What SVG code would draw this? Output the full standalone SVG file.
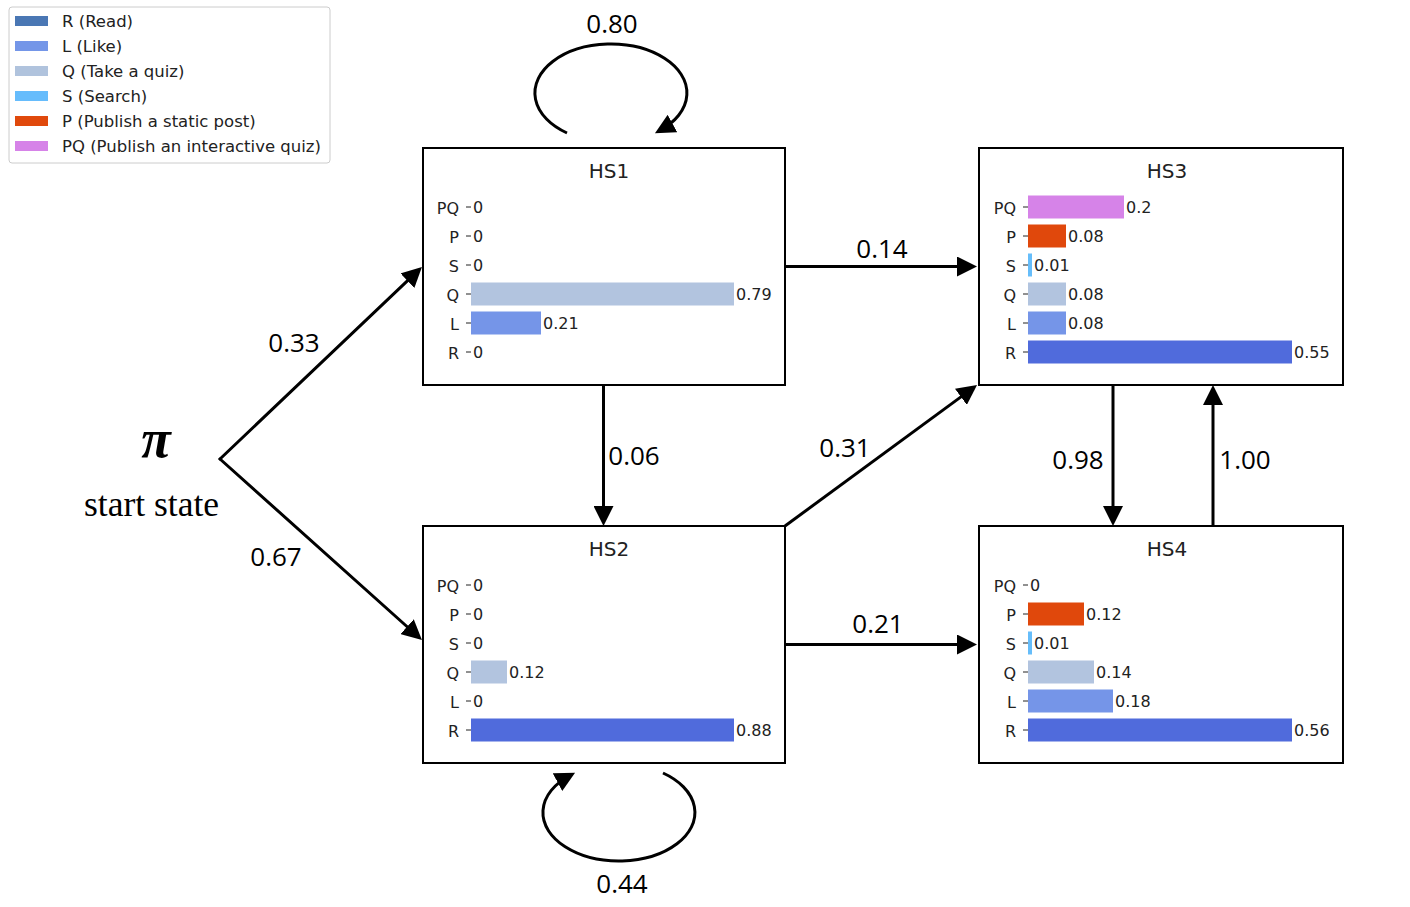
<svg xmlns="http://www.w3.org/2000/svg" width="1410" height="907" viewBox="0 0 1410 907">
<style>
.box{fill:#fff;stroke:#000;stroke-width:2}
.ttl{font-family:"DejaVu Sans",sans-serif;font-size:20px;fill:#222;text-anchor:middle}
.rl{font-family:"DejaVu Sans",sans-serif;font-size:16px;fill:#222;text-anchor:end}
.vl{font-family:"DejaVu Sans",sans-serif;font-size:16px;fill:#222}
.lg{font-family:"DejaVu Sans",sans-serif;font-size:16.5px;fill:#222}
.tk{stroke:#222;stroke-width:1}
.el{font-family:"Open Sans","Noto Sans",sans-serif;font-size:26px;fill:#000;text-anchor:middle}
.cn{fill:none;stroke:#000;stroke-width:3;marker-end:url(#ah)}
.cR{fill:#506BDC}.cL{fill:#7595E8}.cQ{fill:#B2C4DF}.cS{fill:#66BDFA}.cP{fill:#E0480C}.cPQ{fill:#D683E8}
</style>
<defs>
<marker id="ah" markerUnits="userSpaceOnUse" markerWidth="22" markerHeight="20" refX="14" refY="10" orient="auto">
<path d="M0,0 L20,10 L0,20 z" fill="#000"/>
</marker>
</defs>
<rect width="1410" height="907" fill="#fff"/>

<g id="legend">
<rect x="9" y="7" width="321" height="156" rx="3" fill="#fff" stroke="#ccc" stroke-width="1"/>
<rect x="15" y="16" width="33" height="10" fill="#4A77B4"/><text class="lg" x="62" y="27">R (Read)</text>
<rect x="15" y="41" width="33" height="10" fill="#7496E8"/><text class="lg" x="62" y="52">L (Like)</text>
<rect x="15" y="66" width="33" height="10" fill="#B0C3DD"/><text class="lg" x="62" y="77">Q (Take a quiz)</text>
<rect x="15" y="91" width="33" height="10" fill="#66BCFC"/><text class="lg" x="62" y="102">S (Search)</text>
<rect x="15" y="116" width="33" height="10" fill="#E0490C"/><text class="lg" x="62" y="127">P (Publish a static post)</text>
<rect x="15" y="141" width="33" height="10" fill="#D683E8"/><text class="lg" x="62" y="152">PQ (Publish an interactive quiz)</text>
</g>

<g id="start">
<text x="156" y="457" font-family="Liberation Serif,serif" font-style="italic" font-weight="bold" font-size="54" text-anchor="middle">π</text>
<text x="84" y="516" font-family="Liberation Serif,serif" font-size="35.5">start state</text>
</g>

<g id="HS1">
<rect class="box" x="423" y="148" width="362" height="237"/>
<text class="ttl" x="609" y="178">HS1</text>
<g class="tk"><line x1="466" y1="207" x2="471" y2="207"/><line x1="466" y1="236" x2="471" y2="236"/><line x1="466" y1="265" x2="471" y2="265"/><line x1="466" y1="294" x2="471" y2="294"/><line x1="466" y1="323" x2="471" y2="323"/><line x1="466" y1="352" x2="471" y2="352"/></g>
<text class="rl" x="459" y="214">PQ</text><text class="rl" x="459" y="243">P</text><text class="rl" x="459" y="272">S</text><text class="rl" x="459" y="301">Q</text><text class="rl" x="459" y="330">L</text><text class="rl" x="459" y="359">R</text>
<rect class="cQ" x="471" y="282.5" width="263" height="23"/>
<rect class="cL" x="471" y="311.5" width="70" height="23"/>
<text class="vl" x="473" y="213">0</text><text class="vl" x="473" y="242">0</text><text class="vl" x="473" y="271">0</text>
<text class="vl" x="736" y="300">0.79</text><text class="vl" x="543" y="329">0.21</text><text class="vl" x="473" y="358">0</text>
</g>

<g id="HS2">
<rect class="box" x="423" y="526" width="362" height="237"/>
<text class="ttl" x="609" y="556">HS2</text>
<g class="tk"><line x1="466" y1="585" x2="471" y2="585"/><line x1="466" y1="614" x2="471" y2="614"/><line x1="466" y1="643" x2="471" y2="643"/><line x1="466" y1="672" x2="471" y2="672"/><line x1="466" y1="701" x2="471" y2="701"/><line x1="466" y1="730" x2="471" y2="730"/></g>
<text class="rl" x="459" y="592">PQ</text><text class="rl" x="459" y="621">P</text><text class="rl" x="459" y="650">S</text><text class="rl" x="459" y="679">Q</text><text class="rl" x="459" y="708">L</text><text class="rl" x="459" y="737">R</text>
<rect class="cQ" x="471" y="660.5" width="36" height="23"/>
<rect class="cR" x="471" y="718.5" width="263" height="23"/>
<text class="vl" x="473" y="591">0</text><text class="vl" x="473" y="620">0</text><text class="vl" x="473" y="649">0</text>
<text class="vl" x="509" y="678">0.12</text><text class="vl" x="473" y="707">0</text><text class="vl" x="736" y="736">0.88</text>
</g>

<g id="HS3">
<rect class="box" x="979" y="148" width="364" height="237"/>
<text class="ttl" x="1167" y="178">HS3</text>
<g class="tk"><line x1="1023" y1="207" x2="1028" y2="207"/><line x1="1023" y1="236" x2="1028" y2="236"/><line x1="1023" y1="265" x2="1028" y2="265"/><line x1="1023" y1="294" x2="1028" y2="294"/><line x1="1023" y1="323" x2="1028" y2="323"/><line x1="1023" y1="352" x2="1028" y2="352"/></g>
<text class="rl" x="1016" y="214">PQ</text><text class="rl" x="1016" y="243">P</text><text class="rl" x="1016" y="272">S</text><text class="rl" x="1016" y="301">Q</text><text class="rl" x="1016" y="330">L</text><text class="rl" x="1016" y="359">R</text>
<rect class="cPQ" x="1028" y="195.5" width="96" height="23"/>
<rect class="cP" x="1028" y="224.5" width="38" height="23"/>
<rect class="cS" x="1028" y="253.5" width="4" height="23"/>
<rect class="cQ" x="1028" y="282.5" width="38" height="23"/>
<rect class="cL" x="1028" y="311.5" width="38" height="23"/>
<rect class="cR" x="1028" y="340.5" width="264" height="23"/>
<text class="vl" x="1126" y="213">0.2</text><text class="vl" x="1068" y="242">0.08</text><text class="vl" x="1034" y="271">0.01</text>
<text class="vl" x="1068" y="300">0.08</text><text class="vl" x="1068" y="329">0.08</text><text class="vl" x="1294" y="358">0.55</text>
</g>

<g id="HS4">
<rect class="box" x="979" y="526" width="364" height="237"/>
<text class="ttl" x="1167" y="556">HS4</text>
<g class="tk"><line x1="1023" y1="585" x2="1028" y2="585"/><line x1="1023" y1="614" x2="1028" y2="614"/><line x1="1023" y1="643" x2="1028" y2="643"/><line x1="1023" y1="672" x2="1028" y2="672"/><line x1="1023" y1="701" x2="1028" y2="701"/><line x1="1023" y1="730" x2="1028" y2="730"/></g>
<text class="rl" x="1016" y="592">PQ</text><text class="rl" x="1016" y="621">P</text><text class="rl" x="1016" y="650">S</text><text class="rl" x="1016" y="679">Q</text><text class="rl" x="1016" y="708">L</text><text class="rl" x="1016" y="737">R</text>
<rect class="cP" x="1028" y="602.5" width="56" height="23"/>
<rect class="cS" x="1028" y="631.5" width="4" height="23"/>
<rect class="cQ" x="1028" y="660.5" width="66" height="23"/>
<rect class="cL" x="1028" y="689.5" width="85" height="23"/>
<rect class="cR" x="1028" y="718.5" width="264" height="23"/>
<text class="vl" x="1030" y="591">0</text><text class="vl" x="1086" y="620">0.12</text><text class="vl" x="1034" y="649">0.01</text>
<text class="vl" x="1096" y="678">0.14</text><text class="vl" x="1115" y="707">0.18</text><text class="vl" x="1294" y="736">0.56</text>
</g>

<g id="connectors">
<path class="cn" stroke-linecap="round" d="M220,459 L417.6,271.1"/>
<path class="cn" stroke-linecap="round" d="M220,459 L417.5,636"/>
<path class="cn" d="M785,266.5 L971,266.5"/>
<path class="cn" d="M603.5,385 L603.5,520"/>
<path class="cn" d="M785,526 L972.2,388.6"/>
<path class="cn" d="M1113,385 L1113,520"/>
<path class="cn" d="M1213,526 L1213,391"/>
<path class="cn" d="M785,644.5 L971,644.5"/>
<path class="cn" d="M567,133 A76,49 0 1 1 660.2,130.3"/>
<path class="cn" d="M663,773 A76,48.5 0 1 1 569.8,775.5"/>
<text class="el" x="612" y="33">0.80</text>
<text class="el" x="622" y="893">0.44</text>
<text class="el" x="294" y="352">0.33</text>
<text class="el" x="276" y="566">0.67</text>
<text class="el" x="882" y="258">0.14</text>
<text class="el" x="634" y="465">0.06</text>
<text class="el" x="845" y="457">0.31</text>
<text class="el" x="1078" y="469">0.98</text>
<text class="el" x="1245" y="469">1.00</text>
<text class="el" x="878" y="633">0.21</text>
</g>
</svg>
